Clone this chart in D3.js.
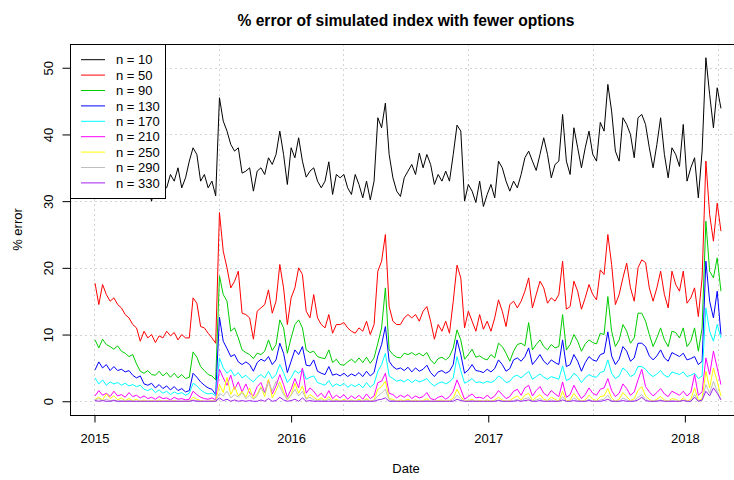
<!DOCTYPE html>
<html>
<head>
<meta charset="utf-8">
<script src="https://cdn.jsdelivr.net/npm/d3@7"></script>
<style>
  body { margin: 0; background: #fff; }
  text { font-family: "Liberation Sans", Arial, sans-serif; fill: #000; }
</style>
</head>
<body>
<svg width="734" height="480"></svg>
<script>
// weekly readings, first week starts 2015-01-02
var firstDay = "2015-01-02";

var seriesNames = ["n = 10", "n = 50", "n = 90", "n = 130", "n = 170", "n = 210", "n = 250", "n = 290", "n = 330"];
var seriesColors = ["#000000", "#ff0000", "#00cd00", "#0000ff", "#00ffff", "#ff00ff", "#ffff00", "#bebebe", "#a020f0"];

var n10 = [33, 34, 32, 35, 33, 31, 34, 36, 33, 32,
  35, 33, 31, 34, 32, 30, 33, 35, 32, 32,
  34, 33, 35, 32, 33.5, 36, 38, 37, 33, 34,
  32, 33, 30.8, 45.5, 42, 40.5, 38.5, 37.5, 38, 34.2,
  34.5, 35, 31.5, 34.5, 35, 34, 36.5, 35.5, 37, 40.5,
  37, 32.5, 38, 36.5, 39.5, 36, 33.6, 34.5, 35, 33,
  32, 33, 35.9, 31, 34, 33.5, 34, 32, 31, 34,
  32.5, 30.5, 33, 30.2, 33, 42.5, 41, 44.7, 37, 33.5,
  31.5, 30.7, 33.5, 34.5, 35.5, 34, 37.2, 35, 37, 35.5,
  32.5, 34, 33, 34.5, 33, 37, 41.4, 40.5, 30, 32.5,
  31.5, 29.8, 33, 29.2, 31, 32.5, 30.5, 36, 35, 33,
  31.5, 33, 32, 34, 36.5, 37.5, 36, 34.6, 37, 39.5,
  37, 33.5, 35.5, 36, 43, 36, 34, 41, 38, 35,
  38, 40.5, 37, 36, 41.8, 40.5, 47.5, 43.5, 37.5, 36,
  42.5, 41.5, 40, 36.5, 42.5, 43, 41.5, 38, 35, 38.5,
  42.5, 37, 33.5, 38, 37, 35.2, 41.5, 33, 35, 36.5,
  30.5, 37.5, 51.5, 46, 41, 47, 43.9];

var n50 = [17.7, 14.5, 17.5, 16, 15, 15.5, 14.5, 14, 13, 12.5,
  11.5, 11, 9, 10.5, 9.5, 10, 8.8, 9.8, 9.5, 10.5,
  9.8, 10.3, 9.2, 10, 9.5, 9.5, 15.5, 14.7, 11.2, 11,
  10.2, 9.5, 8.7, 28.3, 22.5, 20, 17, 18, 19.5, 13.2,
  13, 12.5, 9.3, 13.5, 14, 14.5, 16.7, 13.2, 15, 20.5,
  17, 11.5, 15.5, 17, 20, 19, 13.5, 12.5, 16, 12.5,
  11.5, 11, 13, 10.2, 11.5, 11.5, 11.8, 11, 10.5, 10.2,
  11, 10.5, 12, 10, 11.5, 19.5, 21, 25, 14.2, 12,
  11.5, 11.5, 12.5, 13, 12.5, 13, 12, 13.5, 14.2, 12,
  9.3, 11.5, 10.5, 12, 10.2, 15, 20.4, 18.5, 11, 13.5,
  12, 10.5, 13, 10.8, 12, 10.5, 12.5, 15.2, 13.5, 11.2,
  14.5, 15, 14, 15, 16.5, 18.5, 14, 16, 18, 17,
  14.7, 15.5, 15, 16, 21, 13.8, 14.2, 18, 16.5, 13.8,
  15.5, 17.5, 16, 15.2, 19.7, 19, 25, 20.5, 14.5, 16,
  18.5, 20.7, 17, 15, 20, 21.2, 20.8, 17, 15, 17,
  19.5, 16, 14, 19.5, 17.5, 16.5, 19.5, 14.7, 15.5, 17,
  12.7, 18.5, 36, 28, 24, 29.7, 25.5];

var n90 = [9.2, 8.0, 9.3, 8.5, 8.2, 7.8, 8.3, 7.5, 7.2, 6.7,
  7.0, 5.6, 4.5, 4.2, 4.6, 4.0, 3.9, 4.5, 3.8, 4.3,
  3.6, 4.2, 3.5, 4.0, 3.4, 3.6, 7.4, 6.6, 5.2, 4.6,
  4.0, 3.8, 3.2, 18.8, 16, 15, 10.5, 11, 9.5, 7.7,
  7.3, 7.0, 6.4, 7.2, 7.0, 7.5, 9.2, 7.6, 8.5, 12.2,
  11, 7.2, 9.5, 11.5, 12.2, 11, 7.7, 7.3, 7.5, 6.7,
  6.5, 6.4, 7.7, 5.8, 6.3, 5.5, 5.4, 5.9, 6.3, 5.8,
  6.5, 5.8, 6.6, 5.7, 6.5, 8.7, 11, 17, 7.7, 7.0,
  6.6, 6.5, 7.2, 7.0, 7.3, 6.9, 7.2, 6.8, 7.3, 6.2,
  5.6, 6.4, 6.6, 6.2, 6.7, 8.0, 10.7, 9.2, 6.3, 7.0,
  7.8, 6.6, 6.8, 6.4, 6.2, 7.0, 6.5, 8.7, 8.2, 7.2,
  6.0, 7.5, 8.5, 8.7, 8.3, 11.8, 7.7, 8.5, 9.2, 8.2,
  7.7, 8.5, 8.0, 8.2, 13, 7.7, 8.5, 10, 9.0, 7.5,
  8.6, 9.2, 8.8, 8.6, 10.2, 10, 15.7, 10.5, 8.2, 9.2,
  11.5, 10.5, 8.7, 9.5, 13.2, 13.2, 12, 10, 8.2, 9.5,
  11, 9.2, 8.2, 10.5, 10.3, 9.5, 11, 8.2, 9.0, 11,
  7.5, 11, 27, 19.5, 18.5, 21.5, 16.5];

var n130 = [4.7, 5.9, 5.0, 5.5, 4.6, 5.2, 4.6, 4.8, 4.4, 4.6,
  3.9, 3.5, 3.8, 2.6, 2.4, 2.7, 2.0, 2.5, 1.9, 2.3,
  1.7, 2.2, 1.6, 1.9, 1.4, 1.6, 4.2, 3.6, 2.9, 2.4,
  2.0, 1.8, 1.0, 12.6, 9.0, 7.9, 6.7, 7.0, 5.9, 5.5,
  5.9, 5.5, 4.5, 5.8, 6.3, 6.0, 6.7, 5.5, 6.2, 8.7,
  7.2, 4.3, 6.0, 7.7, 7.0, 8.2, 5.4, 5.3, 6.2, 4.5,
  4.2, 4.0, 5.2, 3.9, 4.1, 3.8, 4.2, 3.7, 4.1, 3.8,
  4.3, 3.7, 4.5, 3.8, 4.3, 6.8, 8.5, 11.2, 6.0, 5.2,
  4.8, 5.0, 4.6, 5.1, 4.4, 5.0, 4.5, 4.8, 5.4, 4.3,
  3.7, 4.4, 4.6, 4.2, 4.5, 5.5, 9.2, 7.0, 4.2, 4.7,
  5.5, 4.6, 4.5, 4.3, 4.8, 4.4, 4.9, 6.2, 5.5, 4.5,
  4.9, 6.2, 6.5, 6.0, 6.7, 8.0, 5.5, 6.2, 7.0, 6.0,
  5.5, 6.2, 5.8, 5.5, 9.2, 5.2, 5.5, 7.0, 6.0, 4.5,
  5.8, 6.7, 6.2, 6.0, 7.0, 7.2, 10.4, 6.8, 5.5, 6.3,
  8.2, 7.5, 6.0, 6.5, 8.7, 8.7, 8.2, 6.8, 6.2, 6.8,
  7.7, 6.5, 6.0, 7.3, 7.0, 6.7, 7.2, 6.2, 6.4, 6.7,
  5.5, 6.0, 21, 15, 12.5, 16.5, 10];

var n170 = [3.5, 2.6, 3.2, 2.4, 2.9, 2.6, 2.8, 2.4, 2.7, 2.3,
  2.5, 2.2, 2.4, 1.8, 1.6, 1.9, 1.3, 1.7, 1.2, 1.5,
  1.0, 1.4, 1.1, 1.3, 0.9, 1.2, 2.7, 2.3, 1.7, 1.3,
  1.1, 1.2, 0.8, 6.5, 5.0, 4.2, 4.7, 3.8, 4.3, 3.5,
  3.9, 3.3, 2.9, 3.6, 4.0, 3.5, 4.5, 3.4, 4.0, 5.5,
  4.3, 2.8, 3.5, 4.6, 4.2, 4.8, 3.3, 3.6, 3.8, 2.8,
  2.6, 2.4, 3.1, 2.2, 2.6, 2.3, 2.7, 2.1, 2.5, 2.2,
  2.6, 2.0, 2.8, 2.1, 2.6, 4.5, 5.5, 7.2, 3.8, 3.4,
  3.0, 3.2, 2.9, 3.3, 2.8, 3.2, 2.9, 3.1, 3.4, 2.7,
  2.3, 2.7, 2.9, 2.6, 2.9, 3.5, 6.7, 4.6, 2.7, 3.0,
  3.4, 2.8, 2.9, 2.7, 3.0, 2.8, 3.1, 3.8, 3.4, 2.8,
  3.0, 3.7, 3.9, 3.5, 4.0, 4.5, 3.3, 3.7, 4.1, 3.6,
  3.3, 3.7, 3.5, 3.3, 5.3, 3.1, 3.4, 4.2, 3.7, 2.8,
  3.5, 4.0, 3.7, 3.6, 4.3, 4.5, 6.2, 4.2, 3.4, 3.8,
  5.0, 4.5, 3.7, 4.0, 5.2, 5.2, 4.8, 4.1, 3.7, 4.1,
  4.6, 3.9, 3.6, 4.4, 4.2, 4.0, 4.4, 3.7, 3.9, 4.2,
  3.4, 3.8, 14, 10.5, 9, 11.5, 9.5];

var n210 = [0.8, 1.6, 0.9, 1.2, 0.7, 1.5, 0.8, 1.0, 0.6, 1.3,
  0.7, 0.9, 0.5, 0.8, 0.4, 0.6, 0.3, 0.7, 0.4, 0.5,
  0.2, 0.6, 0.3, 0.4, 0.2, 0.3, 1.5, 1.0, 0.6, 0.4,
  0.3, 0.5, 0.2, 4.8, 3.5, 2.4, 3.9, 1.8, 2.9, 1.4,
  2.6, 1.2, 0.8, 2.2, 2.8, 1.3, 3.2, 1.1, 2.3, 4.0,
  2.5, 0.6, 1.8, 3.4, 2.0, 5.0, 1.2, 2.0, 1.5, 0.7,
  1.2, 0.5, 1.6, 0.4, 0.9, 0.5, 1.0, 0.3, 0.8, 0.4,
  0.9, 0.3, 1.1, 0.4, 0.8, 2.8, 3.0, 4.2, 1.2, 1.0,
  0.5, 0.9, 0.6, 1.0, 0.4, 0.8, 0.5, 0.7, 1.3, 0.4,
  0.2, 0.6, 0.8, 0.3, 0.7, 1.5, 3.2, 1.8, 0.3, 0.7,
  1.1, 0.5, 0.6, 0.4, 0.9, 0.4, 0.8, 1.6, 1.0, 0.4,
  0.7, 1.5, 1.8, 0.9, 2.0, 2.4, 0.8, 1.6, 2.2, 1.2,
  0.8, 1.6, 1.1, 0.7, 2.9, 0.6, 1.0, 2.4, 1.3, 0.4,
  1.0, 2.0, 1.2, 0.9, 1.8, 2.0, 3.4, 1.6, 0.7, 1.2,
  2.6, 1.9, 0.9, 1.4, 3.2, 4.8, 2.2, 1.4, 0.8, 1.3,
  1.9, 1.1, 0.7, 1.5, 1.2, 0.9, 1.5, 0.8, 1.3, 4.0,
  0.9, 1.4, 6.5, 4.0, 7.5, 5.0, 2.5];

var n250 = [0.3, 0.6, 0.2, 1.1, 0.4, 0.8, 0.2, 0.5, 0.1, 0.4,
  0.1, 0.3, 0, 0.2, 0, 0.1, 0, 0.2, 0, 0.1,
  0, 0.1, 0, 0, 0, 0, 0.6, 0.3, 0.1, 0,
  0, 0.1, 0, 2.5, 1.3, 3.6, 1.0, 2.2, 0.8, 1.5,
  0.6, 2.0, 0.4, 1.1, 2.2, 0.7, 3.3, 0.5, 1.6, 2.9,
  1.4, 0.2, 1.0, 2.7, 1.2, 2.3, 0.4, 1.0, 0.6, 0.2,
  0.5, 0.1, 0.7, 0, 0.3, 0, 0.3, 0, 0.2, 0,
  0.3, 0, 0.4, 0, 0.2, 1.8, 2.2, 3.0, 0.4, 0.3,
  0, 0.2, 0.1, 0.3, 0, 0.2, 0, 0.1, 0.4, 0,
  0, 0.1, 0.2, 0, 0.1, 0.5, 1.8, 0.7, 0, 0.1,
  0.3, 0, 0.1, 0, 0.2, 0, 0.2, 0.6, 0.2, 0,
  0.1, 0.5, 0.8, 0.2, 0.9, 1.2, 0.1, 0.6, 1.0, 0.3,
  0.1, 0.6, 0.3, 0, 1.5, 0, 0.2, 1.2, 0.4, 0,
  0.2, 0.9, 0.3, 0.1, 0.7, 0.8, 1.9, 0.5, 0, 0.3,
  1.3, 0.7, 0.1, 0.4, 1.6, 2.2, 0.8, 0.3, 0, 0.3,
  0.7, 0.2, 0, 0.4, 0.3, 0, 0.5, 0, 0.3, 2.0,
  0.1, 0.4, 4.5, 2.0, 5.0, 3.0, 0.8];

var n290 = [0.2, 0.4, 0.1, 0.3, 0.1, 0.2, 0, 0.1, 0, 0.1,
  0, 0, 0, 0, 0, 0, 0, 0, 0, 0,
  0, 0, 0, 0, 0, 0, 0.2, 0.1, 0, 0,
  0, 0, 0, 1.2, 0.8, 1.5, 0.5, 1.0, 0.6, 1.3,
  0.4, 0.9, 0.3, 0.8, 2.0, 1.2, 2.8, 1.6, 3.0, 2.2,
  1.0, 0.3, 0.9, 1.8, 0.8, 1.5, 0.3, 0.6, 0.2, 0.1,
  0.2, 0, 0.3, 0, 0.1, 0, 0.1, 0, 0.1, 0,
  0.1, 0, 0.2, 0, 0.1, 0.8, 1.2, 1.8, 0.2, 0.1,
  0, 0, 0, 0.1, 0, 0, 0, 0, 0.1, 0,
  0, 0, 0, 0, 0, 0.2, 0.9, 0.3, 0, 0,
  0.1, 0, 0, 0, 0, 0, 0, 0.2, 0, 0,
  0, 0.1, 0.3, 0, 0.4, 0.5, 0, 0.2, 0.4, 0,
  0, 0.2, 0, 0, 0.7, 0, 0, 0.5, 0.1, 0,
  0, 0.3, 0, 0, 0.2, 0.3, 0.9, 0.1, 0, 0,
  0.5, 0.2, 0, 0.1, 0.6, 1.0, 0.3, 0, 0, 0.1,
  0.2, 0, 0, 0.1, 0, 0, 0.2, 0, 0, 1.0,
  0, 0.1, 2.5, 1.2, 3.0, 1.5, 0.3];

var n330 = [0.1, 0, 0.1, 0, 0, 0.1, 0, 0, 0, 0,
  0, 0, 0, 0, 0, 0, 0, 0, 0, 0,
  0, 0, 0, 0, 0, 0, 0.1, 0, 0, 0,
  0, 0, 0, 0.5, 0.1, 0.3, 0, 0.2, 0, 0.1,
  0, 0.1, 0, 0, 0.2, 0, 0.4, 0, 0.1, 0.6,
  0.2, 0, 0.1, 0.3, 0, 0.5, 0, 0.1, 0, 0,
  0, 0, 0, 0, 0, 0, 0, 0, 0, 0,
  0, 0, 0, 0, 0, 0.2, 0.3, 0.5, 0, 0,
  0, 0, 0, 0, 0, 0, 0, 0, 0, 0,
  0, 0, 0, 0, 0, 0, 0.3, 0.1, 0, 0,
  0, 0, 0, 0, 0, 0, 0, 0.1, 0, 0,
  0, 0, 0.1, 0, 0.1, 0.2, 0, 0, 0.1, 0,
  0, 0, 0, 0, 0.2, 0, 0, 0.1, 0, 0,
  0, 0.1, 0, 0, 0, 0.1, 0.3, 0, 0, 0,
  0.1, 0, 0, 0, 0.2, 0.6, 0.1, 0, 0, 0,
  0.1, 0, 0, 0, 0, 0, 0.1, 0, 0, 0.6,
  0, 0.2, 1.5, 0.8, 2.0, 1.2, 0.2];

var yTicks = [0, 10, 20, 30, 40, 50];
var xTickLabels = ["2015", "2016", "2017", "2018"];
// grid() in R lands on pretty() seconds since epoch
var gridSeconds = [1.42e9, 1.44e9, 1.46e9, 1.48e9, 1.50e9, 1.52e9];

var allSeries = [n10, n50, n90, n130, n170, n210, n250, n290, n330];

var svg = d3.select("svg"),
    plotL = 70, plotR = 746, plotT = 44, plotB = 415;

var start = d3.timeParse("%Y-%m-%d")(firstDay);
var dates = n10.map(function(d, i) { return d3.timeDay.offset(start, 7 * i); });

// R style 4% padding on both axes
var t0 = dates[0], t1 = dates[dates.length - 1];
var tPad = (t1 - t0) * 0.04;
var x = d3.scaleTime()
    .domain([new Date(+t0 - tPad), new Date(+t1 + tPad)])
    .range([plotL, plotR]);

var yMax = d3.max(allSeries, function(s) { return d3.max(s); }),
    yMin = 0,
    yPad = (yMax - yMin) * 0.04;
var y = d3.scaleLinear()
    .domain([yMin - yPad, yMax + yPad])
    .range([plotB, plotT]);

// grid
var grid = svg.append("g")
    .attr("stroke", "#d3d3d3")
    .attr("stroke-dasharray", "2,3")
    .attr("stroke-width", 1);

grid.selectAll("line.h")
    .data(yTicks)
    .enter().append("line")
    .attr("x1", plotL).attr("x2", plotR)
    .attr("y1", function(d) { return Math.round(y(d)) + 0.5; })
    .attr("y2", function(d) { return Math.round(y(d)) + 0.5; });

grid.selectAll("line.v")
    .data(gridSeconds)
    .enter().append("line")
    .attr("y1", plotT).attr("y2", plotB)
    .attr("x1", function(d) { return Math.round(x(new Date(d * 1000))) + 0.5; })
    .attr("x2", function(d) { return Math.round(x(new Date(d * 1000))) + 0.5; });

// series
var line = d3.line()
    .x(function(d, i) { return x(dates[i]); })
    .y(function(d) { return y(d); });

svg.append("g")
  .selectAll("path")
  .data(allSeries)
  .enter().append("path")
    .attr("fill", "none")
    .attr("stroke", function(d, i) { return seriesColors[i]; })
    .attr("stroke-width", 1)
    .attr("stroke-linejoin", "round")
    .attr("d", line);

// axes
var xAxis = d3.axisBottom(x)
    .tickValues(xTickLabels.map(function(s) { return d3.timeParse("%Y")(s); }))
    .tickFormat(d3.timeFormat("%Y"))
    .tickSize(7)
    .tickPadding(11);

var gx = svg.append("g")
    .attr("transform", "translate(0," + (plotB + 0.5) + ")")
    .call(xAxis);
gx.select(".domain").remove();
gx.selectAll("line").attr("stroke", "#000");
gx.selectAll("text")
    .attr("font-size", 13)
    .attr("font-family", "Liberation Sans, Arial, sans-serif")
    .attr("fill", "#000");

var yAxis = d3.axisLeft(y)
    .tickValues(yTicks)
    .tickSize(8)
    .tickPadding(0);

var gy = svg.append("g")
    .attr("transform", "translate(" + (plotL + 0.5) + ",0)")
    .call(yAxis);
gy.select(".domain").remove();
gy.selectAll("line").attr("stroke", "#000");
gy.selectAll("text")
    .attr("font-size", 13)
    .attr("font-family", "Liberation Sans, Arial, sans-serif")
    .attr("fill", "#000")
    .attr("text-anchor", "middle")
    .attr("x", null)
    .attr("dy", null)
    .attr("transform", "translate(-18,0) rotate(-90)");

// plot box
svg.append("rect")
    .attr("x", plotL + 0.5)
    .attr("y", plotT + 0.5)
    .attr("width", plotR - plotL)
    .attr("height", plotB - plotT)
    .attr("fill", "none")
    .attr("stroke", "#000");

// titles
svg.append("text")
    .attr("x", (plotL + plotR) / 2 - 2)
    .attr("y", 26)
    .attr("text-anchor", "middle")
    .attr("font-size", 15.6)
    .attr("font-weight", "bold")
    .text("% error of simulated index with fewer options");

svg.append("text")
    .attr("x", (plotL + plotR) / 2 - 2)
    .attr("y", 473)
    .attr("text-anchor", "middle")
    .attr("font-size", 13)
    .text("Date");

svg.append("text")
    .attr("transform", "translate(22," + (plotT + plotB) / 2 + ") rotate(-90)")
    .attr("text-anchor", "middle")
    .attr("font-size", 13)
    .text("% error");

// legend
var legend = svg.append("g");
legend.append("rect")
    .attr("x", plotL + 0.5)
    .attr("y", plotT + 0.5)
    .attr("width", 95)
    .attr("height", 154)
    .attr("fill", "#fff")
    .attr("stroke", "#000");

var rows = legend.selectAll("g.row")
    .data(seriesNames)
    .enter().append("g")
    .attr("transform", function(d, i) { return "translate(0," + (59.7 + i * 15.4) + ")"; });

rows.append("line")
    .attr("x1", 81).attr("x2", 105)
    .attr("y1", 0).attr("y2", 0)
    .attr("stroke", function(d, i) { return seriesColors[i]; });

rows.append("text")
    .attr("x", 116)
    .attr("y", 4.6)
    .attr("font-size", 13)
    .text(function(d) { return d; });
</script>
</body>
</html>
